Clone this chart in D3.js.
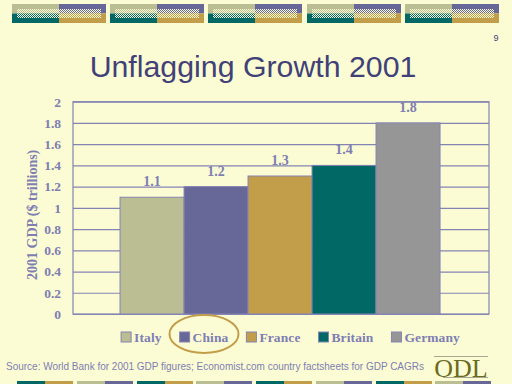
<!DOCTYPE html>
<html><head><meta charset="utf-8">
<script src="https://cdn.jsdelivr.net/npm/d3@7"></script>
<style>
html,body{margin:0;padding:0;background:#FCFCD4;}
svg{display:block;}
</style></head>
<body>
<svg id="c" width="512" height="384"></svg>
<script>
// ---- data ----
const countries = ["Italy", "China", "France", "Britain", "Germany"];
const gdp2001 = [1.1, 1.2, 1.3, 1.4, 1.8];
const barColors = ["#BBBD92", "#686898", "#C29E4B", "#016866", "#969696"];
const yTicks = [0, 0.2, 0.4, 0.6, 0.8, 1, 1.2, 1.4, 1.6, 1.8, 2];
const highlighted = "China";
const titleText = "Unflagging Growth 2001";
const yTitle = "2001 GDP ($ trillions)";
const sourceText = "Source: World Bank for 2001 GDP figures; Economist.com country factsheets for GDP CAGRs";
const pageNumber = "9";
const topBoxX = [12, 110, 208, 307, 405];
const bottomSegX = [17, 77, 137, 196, 256, 316, 376, 435];

const BG = "#FCFCD4", AX = "#8484B4", LBL = "#7E7EB3";
const KHAKI = "#BBBD92", PURPLE = "#686898", TEAL = "#016866", GOLD = "#C29E4B";

const svg = d3.select("#c");
svg.append("rect").attr("width", 512).attr("height", 384).attr("fill", BG);

// checker patterns
const defs = svg.append("defs");
[["k", KHAKI], ["p", PURPLE], ["t", TEAL], ["g", GOLD]].forEach(([id, col]) => {
  const p = defs.append("pattern").attr("id", "chk" + id).attr("width", 2).attr("height", 2)
    .attr("patternUnits", "userSpaceOnUse");
  p.append("rect").attr("width", 2).attr("height", 2).attr("fill", BG);
  p.append("rect").attr("width", 1).attr("height", 1).attr("fill", col);
  p.append("rect").attr("x", 1).attr("y", 1).attr("width", 1).attr("height", 1).attr("fill", col);
});

// top decorative band
const tb = svg.append("g");
topBoxX.forEach(x0 => {
  const h = 47;
  tb.append("rect").attr("x", x0).attr("y", 4).attr("width", h).attr("height", 9.5).attr("fill", KHAKI);
  tb.append("rect").attr("x", x0 + h).attr("y", 4).attr("width", h).attr("height", 9.5).attr("fill", PURPLE);
  tb.append("rect").attr("x", x0).attr("y", 13.5).attr("width", h).attr("height", 9.5).attr("fill", TEAL);
  tb.append("rect").attr("x", x0 + h).attr("y", 13.5).attr("width", h).attr("height", 9.5).attr("fill", GOLD);
  tb.append("rect").attr("x", x0 + 5).attr("y", 9).attr("width", h - 5).attr("height", 4.5).attr("fill", "url(#chkk)");
  tb.append("rect").attr("x", x0 + h).attr("y", 9).attr("width", h - 5).attr("height", 4.5).attr("fill", "url(#chkp)");
  tb.append("rect").attr("x", x0 + 5).attr("y", 13.5).attr("width", h - 5).attr("height", 4.5).attr("fill", "url(#chkt)");
  tb.append("rect").attr("x", x0 + h).attr("y", 13.5).attr("width", h - 5).attr("height", 4.5).attr("fill", "url(#chkg)");
});

// bottom decorative band
bottomSegX.forEach((x0, i) => {
  const cols = i % 2 === 0 ? [TEAL, GOLD] : [KHAKI, PURPLE];
  svg.append("rect").attr("x", x0).attr("y", 381).attr("width", 28).attr("height", 4).attr("fill", cols[0]);
  svg.append("rect").attr("x", x0 + 28).attr("y", 381).attr("width", 28).attr("height", 4).attr("fill", cols[1]);
});

// page number
svg.append("text").attr("x", 496).attr("y", 41).attr("text-anchor", "middle")
  .attr("font-family", "Liberation Sans, Arial, sans-serif").attr("font-size", 9).attr("fill", "#3F3F7A")
  .text(pageNumber);

// title
svg.append("text").attr("x", 253).attr("y", 77).attr("text-anchor", "middle")
  .attr("font-family", "Liberation Sans, Arial, sans-serif").attr("font-size", 30.3).attr("fill", "#414178")
  .text(titleText);

// chart
const L = 73, R = 489, T = 101.7, B = 314;
const x = d3.scaleBand().domain(countries).range([L, R]).paddingInner(0).paddingOuter(0.75).align(0.49);
const y = d3.scaleLinear().domain([0, 2]).range([B, T]);

const grid = svg.append("g").attr("class", "grid")
  .attr("transform", `translate(${L},0)`)
  .call(d3.axisLeft(y).tickValues(yTicks).tickSize(-(R - L)).tickFormat(""));
grid.select(".domain").remove();
grid.selectAll("line").attr("stroke", AX).attr("stroke-width", 1.2);

svg.append("rect").attr("x", L).attr("y", T).attr("width", R - L).attr("height", B - T)
  .attr("fill", "none").attr("stroke", AX).attr("stroke-width", 1.2);

const bars = countries.map((c, i) => ({c, v: gdp2001[i], col: barColors[i]}));
svg.selectAll("rect.bar").data(bars).join("rect").attr("class", "bar")
  .attr("x", d => x(d.c)).attr("width", x.bandwidth())
  .attr("y", d => y(d.v)).attr("height", d => y(0) - y(d.v))
  .attr("fill", d => d.col).attr("stroke", AX).attr("stroke-width", 1);

svg.selectAll("text.val").data(bars).join("text").attr("class", "val")
  .attr("x", d => x(d.c) + x.bandwidth() / 2).attr("y", d => y(d.v) - 11)
  .attr("text-anchor", "middle").attr("font-family", "Liberation Serif, Times New Roman, serif")
  .attr("font-weight", "bold").attr("font-size", 14).attr("fill", LBL)
  .text(d => d.v.toFixed(1));

// y axis labels
const yAxis = svg.append("g").attr("transform", `translate(${L},0)`)
  .call(d3.axisLeft(y).tickValues(yTicks).tickSize(0).tickPadding(12).tickFormat(d => String(d)));
yAxis.select(".domain").remove();
yAxis.selectAll("text").attr("font-family", "Liberation Serif, Times New Roman, serif")
  .attr("font-weight", "bold").attr("font-size", 13.5).attr("fill", LBL);

svg.append("text").attr("transform", `translate(37,${(T + B) / 2 + 7}) rotate(-90)`)
  .attr("text-anchor", "middle").attr("font-family", "Liberation Serif, Times New Roman, serif")
  .attr("font-weight", "bold").attr("font-size", 14).attr("fill", LBL)
  .text(yTitle);

// legend
const lg = svg.append("g");
const items = [];
bars.forEach(d => {
  const g = lg.append("g");
  g.append("rect").attr("x", 0).attr("y", -5).attr("width", 10).attr("height", 10)
    .attr("fill", d.col).attr("stroke", AX).attr("stroke-width", 1);
  const t = g.append("text").attr("x", 13).attr("y", 5)
    .attr("font-family", "Liberation Serif, Times New Roman, serif").attr("font-weight", "bold")
    .attr("font-size", 13.5).attr("letter-spacing", 0.1).attr("fill", LBL).text(d.c);
  items.push({g, w: 13 + t.node().getComputedTextLength(), c: d.c});
});
const gap = 18;
const totalW = d3.sum(items, d => d.w) + gap * (items.length - 1);
let cx = 290.5 - totalW / 2;
items.forEach(it => {
  it.g.attr("transform", `translate(${cx},337)`);
  if (it.c === highlighted) {
    svg.append("ellipse").attr("cx", cx + it.w / 2).attr("cy", 334).attr("rx", 34.5).attr("ry", 19)
      .attr("fill", "none").attr("stroke", GOLD).attr("stroke-width", 2);
  }
  cx += it.w + gap;
});

// source
svg.append("text").attr("x", 6).attr("y", 370)
  .attr("font-family", "Liberation Sans, Arial, sans-serif").attr("font-size", 10.5).attr("fill", LBL)
  .attr("textLength", 418).attr("lengthAdjust", "spacingAndGlyphs")
  .text(sourceText);

// ODL logo
svg.append("line").attr("x1", 434).attr("x2", 488).attr("y1", 356.5).attr("y2", 356.5).attr("stroke", "#A8A890").attr("stroke-width", 1);
svg.append("line").attr("x1", 443).attr("x2", 488).attr("y1", 377.5).attr("y2", 377.5).attr("stroke", "#A8A890").attr("stroke-width", 1);
svg.append("text").attr("x", 461).attr("y", 377).attr("text-anchor", "middle")
  .attr("font-family", "Liberation Serif, Times New Roman, serif").attr("font-size", 26).attr("fill", "#6B6B1E")
  .text("ODL");
</script>
</body></html>
